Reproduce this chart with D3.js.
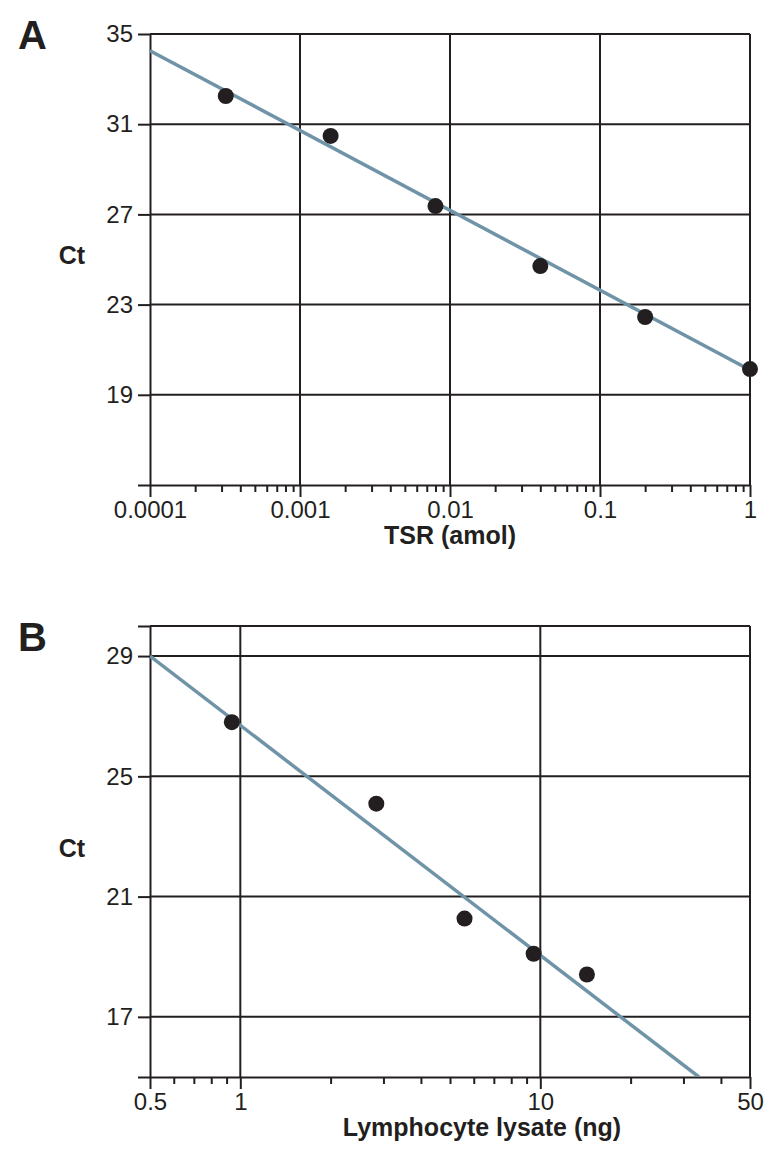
<!DOCTYPE html>
<html>
<head>
<meta charset="utf-8">
<script src="https://cdn.jsdelivr.net/npm/d3@7"></script>
<style>
  html, body { margin: 0; padding: 0; background: #fff; }
  svg { display: block; }
  text { font-family: "Liberation Sans", Arial, Helvetica, sans-serif; fill: #231f20; }
</style>
</head>
<body>
<svg id="chart" width="777" height="1161"></svg>
<script>
// ---------- Data ----------
// Panel A: TSR (amol) vs Ct
const tsrAmol = [0.00032, 0.0016, 0.008, 0.04, 0.2, 1];
const ctA     = [32.25, 30.48, 27.37, 24.71, 22.45, 20.14];
const fitAX   = [0.0001, 1];
const fitAY   = [34.26, 20.1];
const xTicksA = [0.0001, 0.001, 0.01, 0.1, 1];
const xTickLabelsA = ["0.0001", "0.001", "0.01", "0.1", "1"];
const yTicksA = [15, 19, 23, 27, 31, 35];
const yTickLabelsA = ["", "19", "23", "27", "31", "35"];
const yGridA = [19, 23, 27, 31];
const xGridA = [0.001, 0.01, 0.1];

// Panel B: Lymphocyte lysate (ng) vs Ct
const lysateNg = [0.937, 2.84, 5.59, 9.5, 14.3];
const ctB      = [26.80, 24.09, 20.27, 19.10, 18.41];
const fitBX    = [0.5, 33.8];
const fitBY    = [29.0, 15.0];
const xTicksB = [0.5, 1, 10, 50];
const xTickLabelsB = ["0.5", "1", "10", "50"];
const yTicksB = [15, 17, 21, 25, 29, 30];
const yTickLabelsB = ["", "17", "21", "25", "29", ""];
const yGridB = [17, 21, 25, 29];
const xGridB = [1, 10];

// ---------- Drawing ----------
const svg = d3.select("#chart");
const ink = "#231f20";
const fitColor = "#7094a7";

function minorTicks(lo, hi) {
  const out = [];
  let dec = Math.pow(10, Math.floor(Math.log10(lo)));
  while (dec <= hi) {
    for (let m = 2; m < 10; m++) {
      const v = +(m * dec).toPrecision(6);
      if (v > lo * 1.0001 && v < hi * 0.9999) out.push(v);
    }
    dec *= 10;
  }
  return out;
}

function panel(cfg) {
  const { id, left, right, top, bottom, xDomain, yDomain, xData, yData,
          fitX, fitY, xTicks, xLabels, yTicks, yLabels, xGrid, yGrid,
          letter, letterY, xTitle, xTitleX, ctY } = cfg;
  const x = d3.scaleLog().domain(xDomain).range([left, right]);
  const y = d3.scaleLinear().domain(yDomain).range([bottom, top]);
  const g = svg.append("g");

  svg.append("clipPath").attr("id", "clip" + id)
    .append("rect").attr("x", left).attr("y", top)
    .attr("width", right - left).attr("height", bottom - top);

  // grid lines
  g.append("g").selectAll("line").data(yGrid).join("line")
    .attr("x1", left).attr("x2", right)
    .attr("y1", d => y(d)).attr("y2", d => y(d))
    .attr("stroke", ink).attr("stroke-width", 2);
  g.append("g").selectAll("line").data(xGrid).join("line")
    .attr("y1", top).attr("y2", bottom)
    .attr("x1", d => x(d)).attr("x2", d => x(d))
    .attr("stroke", ink).attr("stroke-width", 2);

  // frame: top and right
  g.append("line").attr("x1", left).attr("x2", right)
    .attr("y1", y(yDomain[1])).attr("y2", y(yDomain[1]))
    .attr("stroke", ink).attr("stroke-width", 2);
  g.append("line").attr("x1", x(xDomain[1])).attr("x2", x(xDomain[1]))
    .attr("y1", top).attr("y2", bottom)
    .attr("stroke", ink).attr("stroke-width", 2);

  // y axis
  const yAxis = d3.axisLeft(y).tickValues(yTicks)
    .tickSize(12).tickSizeOuter(0).tickPadding(5)
    .tickFormat((d, i) => yLabels[i]);
  const ya = g.append("g").attr("transform", `translate(${left},0)`).call(yAxis);
  ya.attr("font-size", null).attr("font-family", null);
  ya.select(".domain").attr("stroke", ink).attr("stroke-width", 2);
  ya.selectAll(".tick line").attr("stroke", ink).attr("stroke-width", 2);
  ya.selectAll(".tick text").style("font-size", "24px").attr("fill", ink);

  // x axis minor
  const xMinor = d3.axisBottom(x).tickValues(minorTicks(xDomain[0], xDomain[1]))
    .tickSize(7).tickSizeOuter(0).tickFormat("");
  const xm = g.append("g").attr("transform", `translate(0,${bottom})`).call(xMinor);
  xm.select(".domain").remove();
  xm.selectAll(".tick line").attr("stroke", ink).attr("stroke-width", 2);

  // x axis major
  const xAxis = d3.axisBottom(x).tickValues(xTicks)
    .tickSize(12).tickSizeOuter(0).tickPadding(4)
    .tickFormat((d, i) => xLabels[i]);
  const xa = g.append("g").attr("transform", `translate(0,${bottom})`).call(xAxis);
  xa.attr("font-size", null).attr("font-family", null);
  xa.select(".domain").attr("stroke", ink).attr("stroke-width", 2);
  xa.selectAll(".tick line").attr("stroke", ink).attr("stroke-width", 2);
  xa.selectAll(".tick text").style("font-size", "24px").attr("fill", ink);

  // fit line
  const fitPts = fitX.map((v, i) => [v, fitY[i]]);
  g.append("path").datum(fitPts)
    .attr("clip-path", `url(#clip${id})`)
    .attr("d", d3.line().x(d => x(d[0])).y(d => y(d[1])))
    .attr("fill", "none").attr("stroke", fitColor).attr("stroke-width", 3.5);

  // points
  const pts = xData.map((v, i) => [v, yData[i]]);
  g.append("g").selectAll("circle").data(pts).join("circle")
    .attr("cx", d => x(d[0])).attr("cy", d => y(d[1])).attr("r", 8)
    .attr("fill", ink);

  // labels
  g.append("text").attr("x", 18).attr("y", letterY)
    .style("font-size", "40px").attr("font-weight", "bold").text(letter);
  g.append("text").attr("x", 72).attr("y", ctY).attr("text-anchor", "middle")
    .style("font-size", "25px").attr("font-weight", "bold").text("Ct");
  g.append("text").attr("x", xTitleX).attr("y", bottom + 59).attr("text-anchor", "middle")
    .style("font-size", "25px").attr("font-weight", "bold").text(xTitle);
}

panel({
  id: "A", left: 150, right: 750, top: 34, bottom: 485,
  xDomain: [0.0001, 1], yDomain: [15, 35],
  xData: tsrAmol, yData: ctA, fitX: fitAX, fitY: fitAY,
  xTicks: xTicksA, xLabels: xTickLabelsA, yTicks: yTicksA, yLabels: yTickLabelsA,
  xGrid: xGridA, yGrid: yGridA,
  letter: "A", letterY: 49, xTitle: "TSR (amol)", xTitleX: 450, ctY: 264
});

panel({
  id: "B", left: 150, right: 750, top: 626, bottom: 1077,
  xDomain: [0.5, 50], yDomain: [15, 30],
  xData: lysateNg, yData: ctB, fitX: fitBX, fitY: fitBY,
  xTicks: xTicksB, xLabels: xTickLabelsB, yTicks: yTicksB, yLabels: yTickLabelsB,
  xGrid: xGridB, yGrid: yGridB,
  letter: "B", letterY: 651, xTitle: "Lymphocyte lysate (ng)", xTitleX: 482, ctY: 857
});
</script>
</body>
</html>
